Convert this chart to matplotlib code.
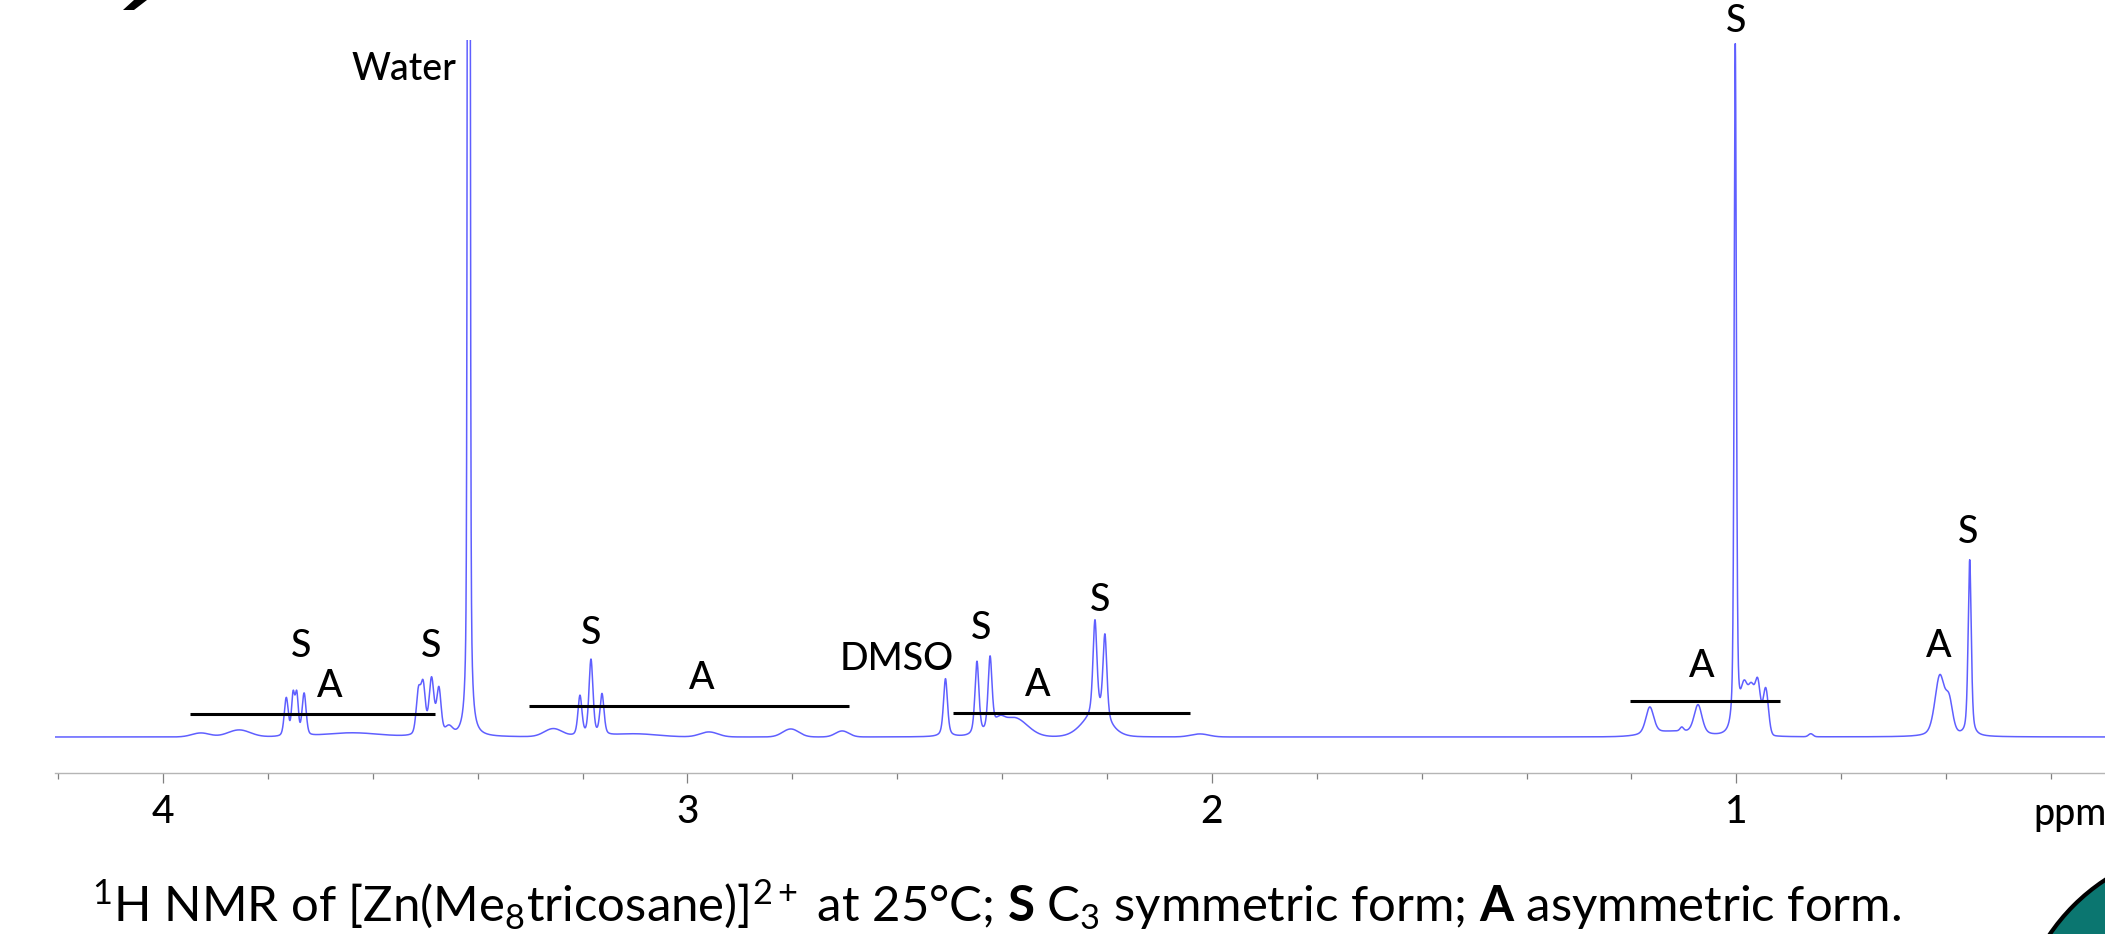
import numpy as np
import matplotlib
matplotlib.use('Agg')
import matplotlib.pyplot as plt
from matplotlib.patches import Circle, Polygon
from matplotlib.ticker import FixedLocator, MultipleLocator

plt.rcParams['font.family'] = ['Lato', 'DejaVu Sans']
plt.rcParams['mathtext.fontset'] = 'custom'
plt.rcParams['mathtext.rm'] = 'Lato'
plt.rcParams['mathtext.it'] = 'Lato:italic'
plt.rcParams['mathtext.bf'] = 'Lato:bold'

# ---------------- data ----------------
# spectrum components: chemical shift (ppm), intensity, half width (ppm), lorentzian fraction
peak_ppm = [3.928, 3.855, 3.640, 3.455, 3.256, 3.100, 2.959, 2.803, 2.705,
            2.405, 2.378, 2.222, 2.023, 1.120, 0.858,
            3.765, 3.752, 3.745, 3.731,
            3.513, 3.504, 3.488, 3.474,
            3.417,
            3.205, 3.184, 3.163,
            2.508,
            2.448, 2.423,
            2.223, 2.204,
            1.165, 1.104, 1.073,
            1.002,
            0.985, 0.971, 0.959, 0.944,
            0.612, 0.594,
            0.555]
peak_height = [4, 7, 4, 8, 8, 3, 5, 8, 6,
               8, 19, 20, 3, 5, 3,
               38, 40, 40, 42,
               42, 48, 56, 46,
               3000,
               40, 76, 41,
               58,
               74, 75,
               95, 85,
               27, 4, 29,
               690,
               46, 42, 50, 47,
               60, 30,
               176]
peak_width = [0.020, 0.025, 0.060, 0.008, 0.020, 0.050, 0.020, 0.018, 0.015,
              0.010, 0.030, 0.030, 0.020, 0.050, 0.005,
              0.0045, 0.0035, 0.0035, 0.0045,
              0.005, 0.005, 0.0055, 0.005,
              0.002,
              0.0045, 0.0045, 0.0045,
              0.0045,
              0.0045, 0.0045,
              0.0045, 0.0045,
              0.009, 0.004, 0.009,
              0.0025,
              0.008, 0.007, 0.006, 0.006,
              0.011, 0.008,
              0.0035]
peak_eta = [0, 0, 0, 0, 0, 0, 0, 0, 0,
            0, 0, 0, 0, 0, 0,
            0.3, 0.3, 0.3, 0.3,
            0.3, 0.3, 0.3, 0.3,
            0.3,
            0.4, 0.4, 0.4,
            0.5,
            0.5, 0.5,
            0.5, 0.5,
            0.4, 0.3, 0.4,
            0.5,
            0.1, 0.1, 0.1, 0.1,
            0.4, 0.3,
            0.5]

# peak labels: text, ppm, baseline height
label_text = ['S', 'A', 'S', 'S', 'A', 'DMSO', 'S', 'A', 'S', 'A', 'S', 'A', 'S']
label_ppm = [3.737, 3.682, 3.489, 3.184, 2.972, 2.601, 2.440, 2.332, 2.214,
             1.066, 1.001, 0.614, 0.558]
label_height = [80, 40, 80, 93, 48, 67, 98, 41, 126, 60, 705, 80, 194]

water_ppm = 3.441
water_height = 657

# horizontal bars marking the asymmetric-form regions
bar_start = [3.949, 3.302, 2.494, 1.203]
bar_end = [3.481, 2.692, 2.042, 0.917]
bar_height = [23, 31, 24, 36]

major_ticks = [4, 3, 2, 1]
tick_labels = ['4', '3', '2', '1']

caption = (r'$^{1}$H NMR of [Zn(Me$_{8}$tricosane)]$^{2+}$ at 25°C; '
           r'$\mathbf{S}$ C$_{3}$ symmetric form; $\mathbf{A}$ asymmetric form.')

# ---------------- figure ----------------
W, H = 2105, 934
fig = plt.figure(figsize=(W / 100, H / 100), dpi=100)
ax = fig.add_axes([55 / W, 1 - 773 / H, 1 - 55 / W, (773 - 40) / H])

ppm = np.linspace(4.206, 0.297, 40000)
spec = np.zeros_like(ppm)
for x0, h, w, eta in zip(peak_ppm, peak_height, peak_width, peak_eta):
    d2 = (ppm - x0) ** 2
    lor = w ** 2 / (d2 + w ** 2)
    gau = np.exp(-np.log(2) * d2 / w ** 2)
    spec += h * (eta * lor + (1 - eta) * gau)

ax.plot(ppm, spec, color='#5f5fff', lw=1.1)

for x1, x2, y in zip(bar_start, bar_end, bar_height):
    ax.plot([x1, x2], [y, y], color='black', lw=2.2, solid_capstyle='butt')

for t, x, y in zip(label_text, label_ppm, label_height):
    ax.text(x, y, t, ha='center', va='baseline', fontsize=27, fontweight='medium',
            color='black')
ax.text(water_ppm, water_height, 'Water', ha='right', va='baseline', fontsize=27,
        fontweight='medium')

ax.set_xlim(4.206, 0.297)
ax.set_ylim(-36, 697)
for s in ['top', 'left', 'right']:
    ax.spines[s].set_visible(False)
ax.spines['bottom'].set_color('#b5b5b5')
ax.spines['bottom'].set_linewidth(1.0)
ax.set_yticks([])
ax.xaxis.set_major_locator(FixedLocator(major_ticks))
ax.set_xticklabels(tick_labels)
ax.xaxis.set_minor_locator(MultipleLocator(0.2))
ax.tick_params(axis='x', which='major', direction='out', length=7.2, width=0.9,
               color='#808080', labelsize=28, pad=8.5)
ax.tick_params(axis='x', which='minor', direction='out', length=4.3, width=0.9,
               color='#808080')
for lab in ax.get_xticklabels():
    lab.set_fontweight('medium')

fig.text(2033 / W, 1 - 825 / H, 'ppm', ha='left', va='baseline', fontsize=27,
         fontweight='medium')

cap = fig.text(92 / W, 1 - 922 / H, caption, ha='left', va='baseline', fontsize=32)
fig.canvas.draw()
bb = cap.get_window_extent()
cap.set_fontsize(32 * 1813 / bb.width)

# decorative elements from the slide
fig.patches.append(Circle((2215, H - 1047), 200, transform=None, facecolor='#0b7670',
                          edgecolor='black', lw=3, zorder=5))
fig.patches.append(Polygon([(134, H), (147, H), (134, H - 10), (123, H - 10)],
                           closed=True, transform=None, facecolor='black',
                           edgecolor='none'))

fig.savefig('out.png', dpi=100)
